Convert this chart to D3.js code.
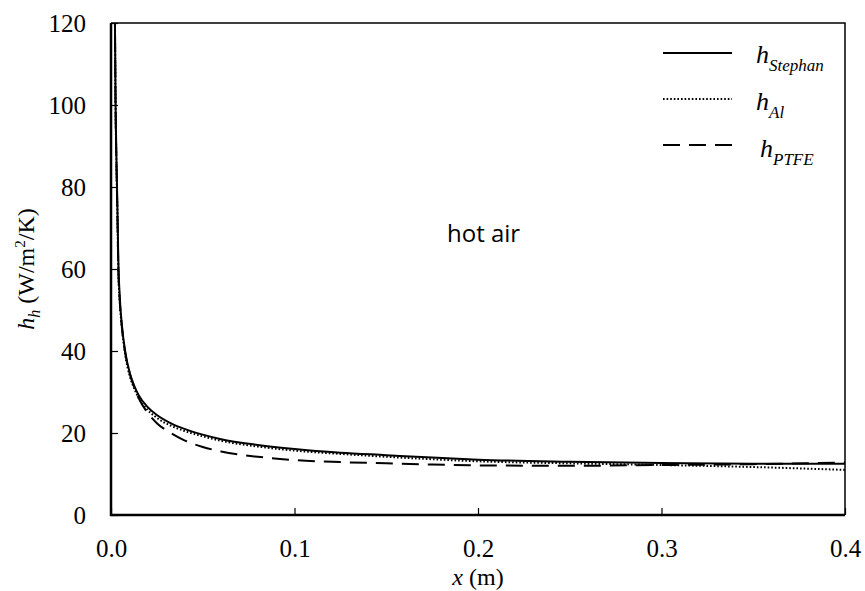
<!DOCTYPE html>
<html>
<head>
<meta charset="utf-8">
<script src="https://cdn.jsdelivr.net/npm/d3@7"></script>
<style>
  body { margin: 0; background: #fff; }
  svg { display: block; }
  .axis path, .axis line { stroke: #000; }
</style>
</head>
<body>
<div id="chart"></div>
<script>
const serif = "Liberation Serif";

// x positions (m)
const xs = [0.002, 0.0025, 0.003, 0.0035, 0.004, 0.0048, 0.006, 0.0076, 0.0104,
            0.0125, 0.015, 0.02, 0.025, 0.033, 0.04, 0.05, 0.06, 0.08, 0.1,
            0.125, 0.15, 0.175, 0.2, 0.25, 0.3, 0.35, 0.4];
// h values (W/m2/K)
const h_stephan = [130, 100, 86, 75, 62, 53, 46, 40.2, 34.4,
                   31.7, 29.3, 26.3, 24.4, 22.3, 21.0, 19.6, 18.5, 17.1, 16.1,
                   15.2, 14.6, 14.0, 13.5, 13.0, 12.7, 12.5, 12.5];
const h_al      = [130, 99, 85, 73, 60, 52, 45.5, 39.5, 33.6,
                   31.0, 28.6, 25.6, 23.7, 21.7, 20.5, 19.2, 18.1, 16.7, 15.7,
                   14.9, 14.2, 13.6, 13.1, 12.6, 12.2, 11.7, 11.0];
const h_ptfe    = [130, 99, 85, 73, 60, 52, 45.5, 40, 34.2,
                   31.3, 28.6, 24.9, 22.4, 19.9, 18.2, 16.6, 15.5, 14.2, 13.4,
                   12.9, 12.6, 12.3, 12.1, 12.0, 12.2, 12.4, 12.8];
const series_names = ["Stephan", "Al", "PTFE"];
const x_ticks = [0, 0.1, 0.2, 0.3, 0.4];
const y_ticks = [0, 20, 40, 60, 80, 100, 120];

const dashes = { Stephan: null, Al: "1.6,2", PTFE: "17,9" };
const series = [h_stephan, h_al, h_ptfe];

const W = 865, H = 591;
const m = { left: 111, right: 20, top: 23, bottom: 76 };

const x_scale = d3.scaleLinear().domain([0, 0.4]).range([m.left, W - m.right]);
const y_scale = d3.scaleLinear().domain([0, 120]).range([H - m.bottom, m.top]);

const svg = d3.select("#chart").append("svg")
  .attr("width", W).attr("height", H);

svg.append("defs").append("clipPath").attr("id", "plot")
  .append("rect")
  .attr("x", m.left).attr("y", m.top)
  .attr("width", x_scale(0.4) - m.left)
  .attr("height", y_scale(0) - m.top);

// frame top/right
svg.append("path")
  .attr("d", `M${m.left},${y_scale(120)}H${x_scale(0.4)}V${y_scale(0)}`)
  .attr("fill", "none").attr("stroke", "#000").attr("stroke-width", 1.5);

const line = vals => d3.line()
  .x((d, i) => x_scale(xs[i]))
  .y(d => y_scale(d))
  .curve(d3.curveMonotoneX)(vals);

svg.append("g").attr("clip-path", "url(#plot)")
  .selectAll("path")
  .data(series)
  .enter()
  .append("path")
  .attr("d", d => line(d))
  .attr("fill", "none")
  .attr("stroke", "#000")
  .attr("stroke-width", 2)
  .attr("stroke-dasharray", (d, i) => dashes[series_names[i]]);

// axes
const x_axis = d3.axisBottom(x_scale).tickValues(x_ticks)
  .tickFormat(d3.format(".1f")).tickSize(-7).tickPadding(24);
const y_axis = d3.axisLeft(y_scale).tickValues(y_ticks)
  .tickSize(-7).tickPadding(25);

const gx = svg.append("g").attr("class", "x axis")
  .attr("transform", `translate(0,${y_scale(0)})`).call(x_axis);
const gy = svg.append("g").attr("class", "y axis")
  .attr("transform", `translate(${m.left},0)`).call(y_axis);
[gx, gy].forEach(g => {
  g.attr("font-family", serif).attr("font-size", 25);
  g.select(".domain").attr("stroke-width", 2.5);
  g.selectAll(".tick line").attr("stroke-width", 1.2);
  g.selectAll(".tick text")
    .style("font-family", serif)
    .style("font-size", "25px")
    .attr("fill", "#000");
});
gy.select(".domain").attr("d", `M0,${y_scale(120)}V${y_scale(0) + 1}`);
gx.select(".domain").attr("d", `M${m.left - 1},0H${x_scale(0.4)}`);

// axis titles
const xl = svg.append("text")
  .attr("x", 478).attr("y", 585)
  .attr("text-anchor", "middle")
  .style("font-family", serif).style("font-size", "24px");
xl.append("tspan").attr("font-style", "italic").text("x");
xl.append("tspan").text(" (m)");

const yl = svg.append("text")
  .attr("transform", `translate(34,269) rotate(-90)`)
  .attr("text-anchor", "middle")
  .style("font-family", serif).style("font-size", "24px");
yl.append("tspan").attr("font-style", "italic").text("h");
yl.append("tspan").attr("font-style", "italic").attr("font-size", "16px").attr("dy", 6).text("h");
yl.append("tspan").attr("dy", -6).text(" (W/m");
yl.append("tspan").attr("font-size", "15px").attr("dy", -9).text("2");
yl.append("tspan").attr("dy", 9).text("/K)");

// annotation
svg.append("text")
  .attr("x", 447).attr("y", 242)
  .style("font-family", "Open Sans").style("font-size", "24px")
  .text("hot air");

// legend
const legend = svg.append("g").attr("transform", "translate(663,53)");
const items = legend.selectAll("g")
  .data(series_names)
  .enter()
  .append("g")
  .attr("transform", (d, i) => `translate(0,${i * 46})`);
items.append("line")
  .attr("x1", 0).attr("x2", 69)
  .attr("stroke", "#000").attr("stroke-width", 2)
  .attr("stroke-dasharray", d => dashes[d]);
const lab = items.append("text")
  .attr("x", (d, i) => i === 2 ? 97 : 93)
  .attr("y", (d, i) => 10 + i)
  .style("font-family", serif)
  .style("font-style", "italic")
  .style("font-size", "26px");
lab.append("tspan").text("h");
lab.append("tspan").attr("font-size", "17px").attr("dy", 8).text(d => d);
</script>
</body>
</html>
